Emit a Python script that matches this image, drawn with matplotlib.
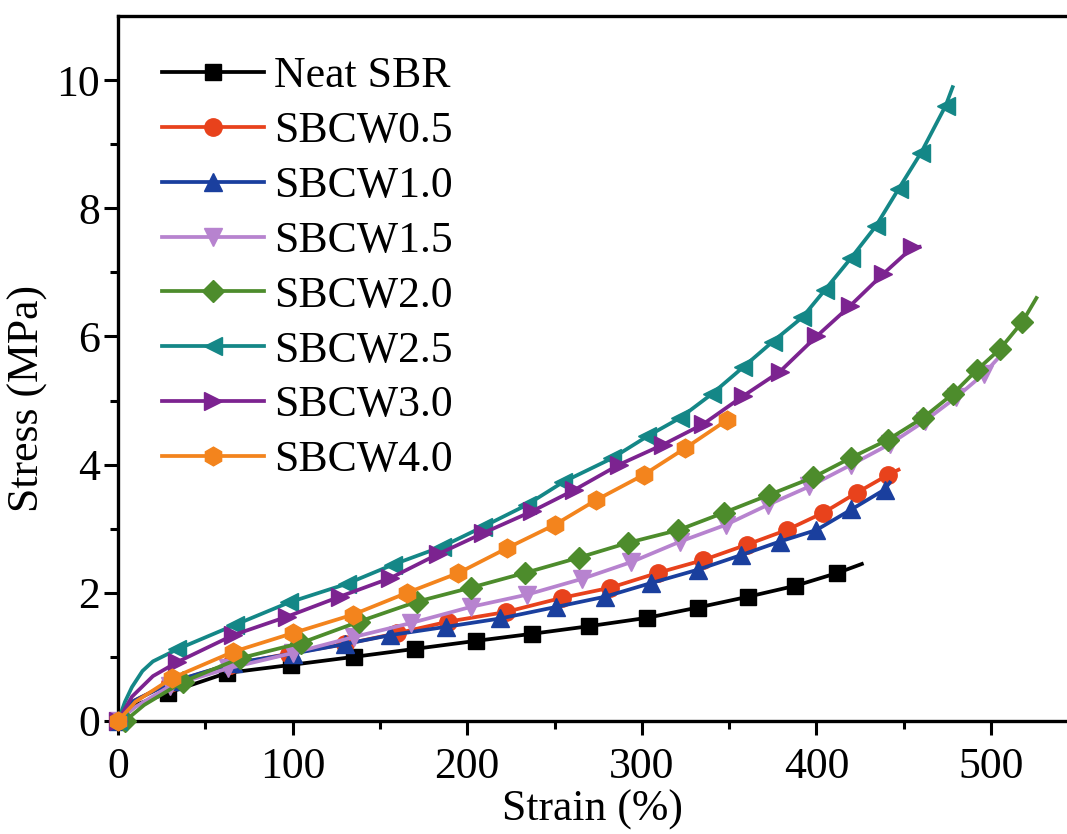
import numpy as np
import matplotlib
matplotlib.use("Agg")
import matplotlib.pyplot as plt

plt.rcParams['font.family'] = ['Liberation Serif', 'DejaVu Serif']

# stress-strain curves (strain %, stress MPa)
neat_x = [0, 10, 28.6, 62.4, 99, 135, 170, 205, 237, 270, 303, 332, 361, 388, 412, 426]
neat_y = [0, 0.25, 0.44, 0.75, 0.875, 1.0, 1.125, 1.25, 1.36, 1.48, 1.61, 1.77, 1.94, 2.11, 2.31, 2.45]

s05_x = [0, 8, 30, 64, 98, 130, 160, 189, 222, 254, 282, 309, 335, 360, 383, 404, 423, 441, 447]
s05_y = [0, 0.3, 0.6, 0.88, 1.05, 1.2, 1.37, 1.55, 1.7, 1.92, 2.08, 2.31, 2.51, 2.75, 2.98, 3.25, 3.56, 3.84, 3.92]

s10_x = [0, 8, 32, 66, 100, 130, 156, 188, 219, 251, 279, 305, 332, 357, 379, 400, 420, 439, 442]
s10_y = [0, 0.3, 0.62, 0.9, 1.05, 1.2, 1.34, 1.47, 1.6, 1.78, 1.94, 2.15, 2.36, 2.59, 2.8, 2.98, 3.3, 3.61, 3.72]

s15_x = [0, 10, 30, 63, 100, 135, 168, 202, 234, 266, 294, 322, 348, 372, 396, 420, 442, 462, 480, 496, 508]
s15_y = [0, 0.22, 0.55, 0.82, 1.06, 1.31, 1.53, 1.78, 1.97, 2.22, 2.48, 2.8, 3.06, 3.37, 3.66, 4.0, 4.32, 4.68, 5.05, 5.42, 5.78]

s20_x = [4, 15, 37, 70, 105, 138, 171, 202, 233, 264, 292, 321, 347, 373, 398, 420, 441, 461, 478, 492, 505, 518, 526]
s20_y = [0, 0.25, 0.61, 0.98, 1.22, 1.55, 1.86, 2.08, 2.31, 2.55, 2.78, 2.98, 3.25, 3.53, 3.8, 4.11, 4.39, 4.73, 5.1, 5.48, 5.8, 6.23, 6.6]

s25_x = [0, 4, 8, 14, 20, 34, 67, 98, 131, 157.5, 185.5, 209, 234, 255, 283, 303, 322, 340, 358, 375, 392, 405, 420, 434, 447, 460, 474, 478]
s25_y = [0, 0.3, 0.53, 0.78, 0.93, 1.12, 1.5, 1.85, 2.14, 2.44, 2.72, 3.03, 3.37, 3.73, 4.1, 4.44, 4.73, 5.1, 5.52, 5.92, 6.3, 6.73, 7.23, 7.72, 8.3, 8.87, 9.6, 9.89]

s30_x = [0, 8, 20, 34, 66, 97, 127, 156, 183, 209, 237, 261, 287, 312, 335, 358, 379, 400, 419, 438, 455, 459]
s30_y = [0, 0.38, 0.7, 0.92, 1.34, 1.63, 1.94, 2.23, 2.6, 2.93, 3.27, 3.6, 4.0, 4.31, 4.63, 5.07, 5.45, 6.0, 6.47, 6.97, 7.39, 7.4]

s40_x = [0, 10, 31, 66, 100, 134.6, 165.5, 195, 223, 250, 274, 301, 325, 349, 351]
s40_y = [0, 0.3, 0.67, 1.08, 1.37, 1.66, 2.0, 2.31, 2.7, 3.06, 3.45, 3.84, 4.26, 4.7, 4.73]

labels = ['Neat SBR', 'SBCW0.5', 'SBCW1.0', 'SBCW1.5', 'SBCW2.0', 'SBCW2.5', 'SBCW3.0', 'SBCW4.0']
colors = ['#000000', '#e8421c', '#1a3f9e', '#b783cf', '#4d8c2c', '#148787', '#7c2390', '#f3841d']
markers = ['s', 'o', '^', 'v', 'D', '<', '>', 'h']
msizes = [11, 12.5, 13, 13, 11, 13, 13, 13.5]

series = [(neat_x, neat_y), (s05_x, s05_y), (s10_x, s10_y), (s15_x, s15_y),
          (s20_x, s20_y), (s25_x, s25_y), (s30_x, s30_y), (s40_x, s40_y)]

fig = plt.figure(figsize=(10.67, 8.34), dpi=100)
ax = fig.add_axes([0.1106, 0.1355, 0.8894, 0.8453])

for (x, y), lab, c, m, ms in zip(series, labels, colors, markers, msizes):
    # markers only on the sampled points, not on the knee or the end of the curve
    idx = [i for i, v in enumerate(x) if (i == 0 or v > 25) and i < len(x) - 1]
    ax.plot(x, y, color=c, lw=2.7, marker=m, ms=ms, markevery=idx,
            label=lab, clip_on=False, zorder=3)

ax.set_xlim(0, 543.5)
ax.set_ylim(0, 11)
ax.set_xticks(np.arange(0, 501, 100))
ax.set_xticks(np.arange(50, 541, 100), minor=True)
ax.set_yticks(np.arange(0, 11, 2))
ax.set_yticks(np.arange(1, 11, 2), minor=True)

ax.spines['right'].set_visible(False)
for s in ['left', 'bottom', 'top']:
    ax.spines[s].set_linewidth(2.4)

ax.tick_params(which='major', direction='out', length=10, width=2.2, labelsize=31.5)
ax.tick_params(which='minor', direction='out', length=6, width=2.2)
ax.tick_params(axis='x', which='major', pad=9)
ax.tick_params(axis='y', which='major', pad=3)
ax.tick_params(top=False, right=False, which='both')

ax.set_xlabel('Strain (%)', fontsize=31.5)
ax.set_ylabel('Stress (MPa)', fontsize=31.5)
ax.xaxis.set_label_coords(0.5, -0.097)
ax.yaxis.set_label_coords(-0.074, 0.457)

leg = ax.legend(loc='upper left', bbox_to_anchor=(0.046, 0.943), frameon=False,
                fontsize=31.5, handlelength=2.35, handletextpad=0.22,
                labelspacing=0.34, borderpad=0, borderaxespad=0, numpoints=1)

fig.savefig('out.png', dpi=100)
